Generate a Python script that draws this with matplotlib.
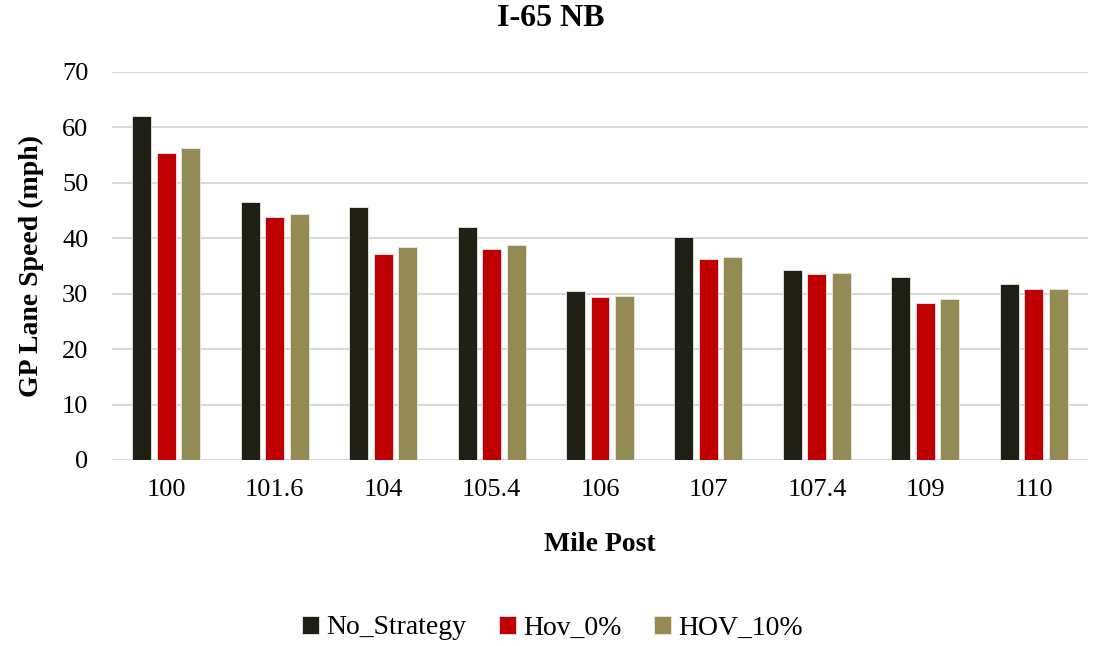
import matplotlib
matplotlib.use('Agg')
import matplotlib.pyplot as plt
import numpy as np

mile_posts = ['100', '101.6', '104', '105.4', '106', '107', '107.4', '109', '110']
no_strategy = [62.1, 46.5, 45.6, 42.1, 30.5, 40.3, 34.2, 33.0, 31.8]
hov_0 = [55.3, 43.9, 37.1, 38.1, 29.4, 36.2, 33.6, 28.4, 30.8]
hov_10 = [56.3, 44.3, 38.4, 38.7, 29.5, 36.7, 33.7, 29.1, 30.9]

series_names = ['No_Strategy', 'Hov_0%', 'HOV_10%']
colors = ['#201F13', '#C00000', '#948A54']

plt.rcParams['font.family'] = ['Liberation Serif', 'DejaVu Serif']

fig = plt.figure(figsize=(10.94, 6.46), dpi=100)
ax = fig.add_axes([112 / 1094, 1 - 460 / 646, (1088 - 112) / 1094, (460 - 72) / 646])

x = np.arange(len(mile_posts))
width = 0.175
pitch = 0.226
for i, (vals, name, c) in enumerate(zip([no_strategy, hov_0, hov_10], series_names, colors)):
    ax.bar(x + (i - 1) * pitch, vals, width, color=c, label=name,
           edgecolor='#e8e8e8', linewidth=0.6, zorder=3)

ax.set_xlim(-0.5, len(mile_posts) - 0.5)
ax.set_ylim(0, 70)
ax.set_yticks(np.arange(0, 71, 10))
ax.set_xticks(x)
ax.set_xticklabels(mile_posts)
ax.yaxis.grid(True, color='#D9D9D9', linewidth=1.5, zorder=0)
ax.set_axisbelow(True)
for s in ['top', 'right', 'left', 'bottom']:
    ax.spines[s].set_visible(False)
ax.tick_params(axis='both', length=0, labelsize=19, colors='black')
ax.tick_params(axis='x', pad=14)
ax.tick_params(axis='y', pad=17)

# title is centred on the whole figure, not on the plot area
fig.text(0.503, 1 - 19 / 646, 'I-65 NB', fontsize=23, fontweight='bold',
         ha='center', va='center')
ax.set_xlabel('Mile Post', fontsize=20, fontweight='bold', labelpad=22)
ax.set_ylabel('GP Lane Speed (mph)', fontsize=20, fontweight='bold', labelpad=13)

fig.legend(loc='center', bbox_to_anchor=(0.505, 1 - 628 / 646), ncol=3, frameon=False,
           fontsize=20, handlelength=0.6, handleheight=0.6, handletextpad=0.25,
           columnspacing=1.2)

fig.savefig('out.png', dpi=100)
